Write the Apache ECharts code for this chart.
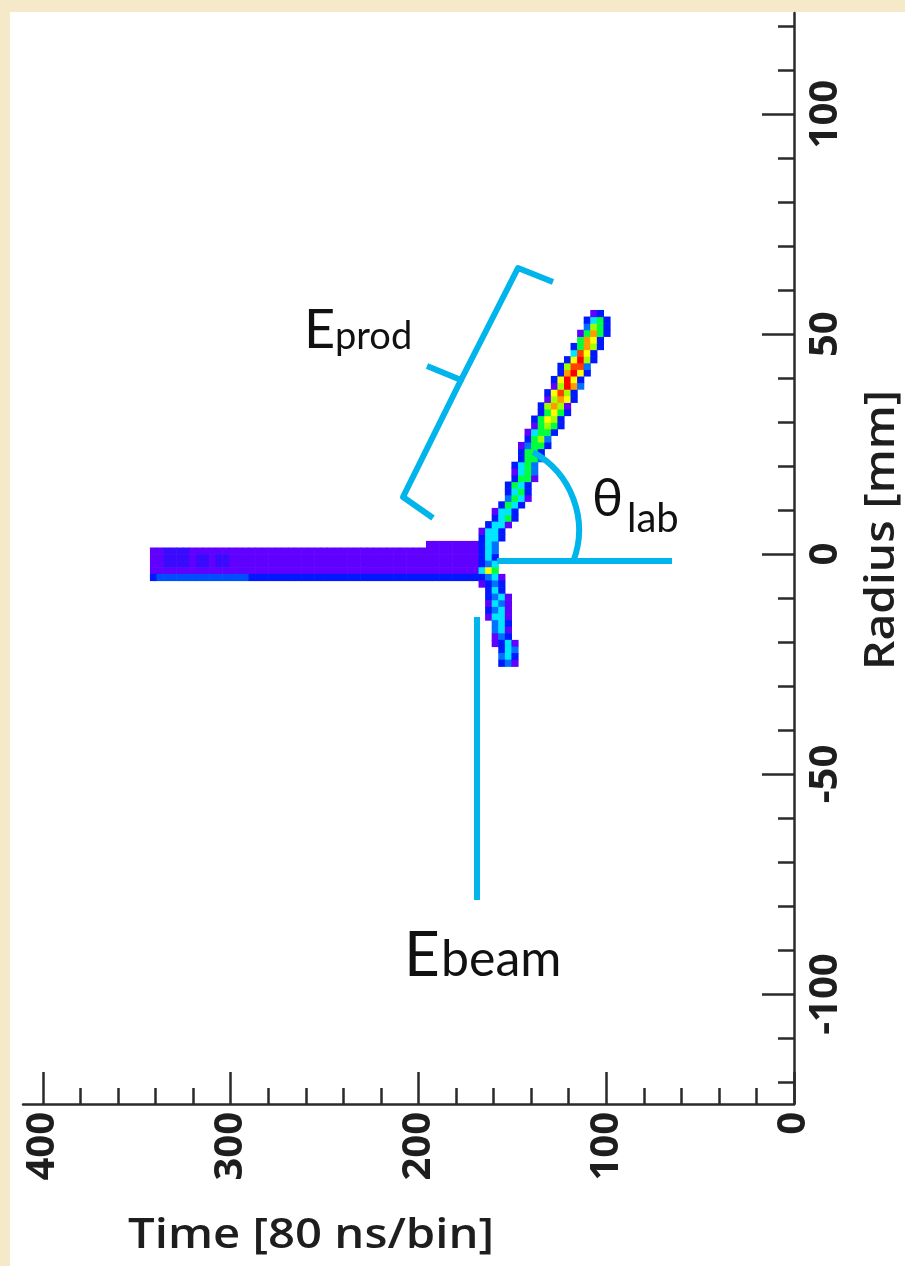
<!DOCTYPE html>
<html>
<head>
<meta charset="utf-8">
<title>Track</title>
<script src="https://cdn.jsdelivr.net/npm/echarts@6.0.0/dist/echarts.min.js"></script>
<style>
  html, body { margin: 0; padding: 0; background: #f5e9c9; }
  #paper { position: absolute; left: 10px; top: 12px; width: 895px; height: 1254px; background: #fff; }
  #main { position: absolute; left: 0; top: 0; width: 905px; height: 1266px; }
</style>
</head>
<body>
<div id="paper"></div>
<div id="main"></div>
<script>
// axis ticks
var timeMajor = [0, 100, 200, 300, 400];
var timeMinor = [20, 40, 60, 80, 120, 140, 160, 180, 220, 240, 260, 280, 320, 340, 360, 380];
var radiusMajor = [-100, -50, 0, 50, 100];
var radiusMinor = [-120, -110, -90, -80, -70, -60, -40, -30, -20, -10, 10, 20, 30, 40, 60, 70, 80, 90, 110, 120];

// size of one cell
var timeBin = 3.5;
var radiusBin = 1.5;

// beam: [radius, first time, last time, charge]
var beamRuns = [
  [2.25, 194.25, 169.75, 1],
  [0.75, 341.25, 337.75, 1], [0.75, 334.25, 323.75, 1.4], [0.75, 320.25, 169.75, 1],
  [-0.75, 341.25, 337.75, 1], [-0.75, 334.25, 323.75, 1.4], [-0.75, 320.25, 320.25, 1],
  [-0.75, 316.75, 313.25, 1.4], [-0.75, 309.75, 309.75, 1], [-0.75, 306.25, 302.75, 1.4], [-0.75, 299.25, 169.75, 1],
  [-2.25, 341.25, 337.75, 1], [-2.25, 334.25, 323.75, 1.4], [-2.25, 320.25, 320.25, 1],
  [-2.25, 316.75, 313.25, 1.4], [-2.25, 309.75, 309.75, 1], [-2.25, 306.25, 302.75, 1.4], [-2.25, 299.25, 169.75, 1],
  [-3.75, 341.25, 169.75, 1],
  [-5.25, 341.25, 341.25, 2], [-5.25, 337.75, 292.25, 2.6], [-5.25, 288.75, 169.75, 2]
];

// vertex cells: [radius, first time, charges going to smaller time]
var vertexRows = [
  [2.25, 166.25, [2, 4, 3]],
  [0.75, 166.25, [2, 4, 3]],
  [-0.75, 166.25, [2, 4, 2]],
  [-2.25, 166.25, [2, 3, 4]],
  [-3.75, 166.25, [4, 7, 5]],
  [-5.25, 166.25, [2, 3, 4, 1]]
];

// scattered particle
var productRows = [
  [3.75, 166.25, [2, 4, 4, 2]],
  [5.25, 166.25, [1, 4, 4, 2]],
  [6.75, 162.75, [2, 4, 4, 1]],
  [8.25, 159.25, [2, 4, 5, 2]],
  [9.75, 159.25, [1, 4, 4, 2]],
  [11.25, 155.75, [2, 5, 4, 2]],
  [12.75, 152.25, [3, 5, 4, 1]],
  [14.25, 152.25, [2, 4, 5, 2]],
  [15.75, 152.25, [2, 5, 4, 2]],
  [17.25, 148.75, [2, 5, 5, 1]],
  [18.75, 148.75, [1, 4, 5, 3]],
  [20.25, 148.75, [2, 4, 5, 3]],
  [21.75, 145.25, [2, 5, 5, 3]],
  [23.25, 145.25, [2, 5, 5, 2]],
  [24.75, 145.25, [1, 3, 5, 5, 2]],
  [26.25, 141.75, [2, 5, 6, 3]],
  [27.75, 141.75, [1, 4, 5, 5, 2]],
  [29.25, 138.25, [1, 5, 6, 5, 2]],
  [30.75, 138.25, [2, 5, 7, 6, 2]],
  [32.25, 134.75, [2, 5, 7, 5, 2]],
  [33.75, 134.75, [2, 6, 8, 6, 1]],
  [35.25, 131.25, [1, 6, 8, 7, 2]],
  [36.75, 131.25, [2, 7, 9, 6, 2]],
  [38.25, 127.75, [1, 6, 10, 8, 3]],
  [39.75, 127.75, [2, 7, 10, 7, 2]],
  [41.25, 124.25, [2, 8, 10, 7, 2]],
  [42.75, 124.25, [2, 6, 9, 9, 3]],
  [44.25, 120.75, [2, 7, 10, 6, 2]],
  [45.75, 117.25, [4, 9, 7, 2]],
  [47.25, 117.25, [2, 5, 8, 6, 2]],
  [48.75, 113.75, [5, 8, 7, 2]],
  [50.25, 113.75, [1, 5, 8, 5, 2]],
  [51.75, 110.25, [3, 6, 5, 2]],
  [53.25, 110.25, [2, 4, 5, 2]],
  [54.75, 106.75, [1, 2]]
];

// recoil going down
var recoilRows = [
  [-6.75, 166.25, [1, 2, 3, 2]],
  [-8.25, 162.75, [2, 4, 2]],
  [-9.75, 162.75, [2, 3, 4, 1]],
  [-11.25, 162.75, [1, 4, 3, 1]],
  [-12.75, 162.75, [2, 3, 4, 1]],
  [-14.25, 162.75, [1, 4, 4, 1]],
  [-15.75, 159.25, [3, 4, 2]],
  [-17.25, 159.25, [3, 4, 1]],
  [-18.75, 159.25, [1, 3, 2]],
  [-20.25, 159.25, [1, 2, 4, 1]],
  [-21.75, 155.75, [2, 4, 3]],
  [-23.25, 155.75, [3, 4, 2]],
  [-24.75, 155.75, [2, 3, 1]]
];

var palette = ['#6000ff', '#0018ff', '#0072ff', '#00e6ff', '#00ff3c', '#a0ff00',
               '#ffff00', '#ff9a00', '#ff4000', '#ff0000'];

// expand rows into cells [time, radius, charge]
var cells = [];
beamRuns.forEach(function (b) {
  var n = Math.round((b[1] - b[2]) / timeBin) + 1;
  for (var i = 0; i < n; i++) cells.push([b[1] - i * timeBin, b[0], b[3]]);
});
function addRows(rows) {
  rows.forEach(function (row) {
    row[2].forEach(function (v, i) { cells.push([row[1] - i * timeBin, row[0], v]); });
  });
}
addRows(vertexRows);
addRows(productRows);
addRows(recoilRows);

var ink = '#2a2a2a';
var cyan = '#00b4ec';
var measureCtx = document.createElement('canvas').getContext('2d');
function stretchTo(text, font, width) {
  measureCtx.font = font;
  return width / measureCtx.measureText(text).width;
}
var titleFont = '600 42px "Open Sans"';

var chart = echarts.init(document.getElementById('main'));
var option = {
  animation: false,
  backgroundColor: 'transparent',
  grid: { left: 23, right: 111, top: 13, bottom: 162, outerBoundsMode: 'none' },
  visualMap: {
    show: false, type: 'continuous', dimension: 2, seriesIndex: 0,
    min: 1, max: 10, inRange: { color: palette }
  },
  xAxis: [{
    type: 'value', min: 0, max: 410.6, inverse: true, position: 'bottom',
    axisLine: { show: true, onZero: false, lineStyle: { color: ink, width: 2.5 } },
    axisTick: { show: true, inside: true, length: 32, customValues: timeMajor, lineStyle: { color: ink, width: 2.5 } },
    axisLabel: { show: true, rotate: 90, margin: 8, customValues: timeMajor,
      fontFamily: 'Open Sans', fontWeight: 'bold', fontSize: 40, color: '#1e1e1e' },
    splitLine: { show: false }
  }, {
    type: 'value', min: 0, max: 410.6, inverse: true, position: 'bottom',
    axisLine: { show: false, onZero: false },
    axisTick: { show: true, inside: true, length: 16, customValues: timeMinor, lineStyle: { color: ink, width: 2.5 } },
    axisLabel: { show: false },
    splitLine: { show: false }
  }],
  yAxis: [{
    type: 'value', min: -125, max: 123, position: 'right',
    axisLine: { show: true, onZero: false, lineStyle: { color: ink, width: 2.5 } },
    axisTick: { show: true, inside: true, length: 32, customValues: radiusMajor, lineStyle: { color: ink, width: 2.5 } },
    axisLabel: { show: true, rotate: 90, margin: 12, customValues: radiusMajor,
      fontFamily: 'Open Sans', fontWeight: 'bold', fontSize: 40, color: '#1e1e1e' },
    splitLine: { show: false }
  }, {
    type: 'value', min: -125, max: 123, position: 'right',
    axisLine: { show: false, onZero: false },
    axisTick: { show: true, inside: true, length: 16, customValues: radiusMinor, lineStyle: { color: ink, width: 2.5 } },
    axisLabel: { show: false },
    splitLine: { show: false }
  }],
  series: [{
    type: 'custom',
    xAxisIndex: 0, yAxisIndex: 0,
    dimensions: ['time', 'radius', 'charge'],
    encode: { x: 0, y: 1 },
    data: cells,
    renderItem: function (params, api) {
      var t = api.value(0), r = api.value(1);
      var a = api.coord([t + timeBin / 2, r + radiusBin / 2]);
      var b = api.coord([t - timeBin / 2, r - radiusBin / 2]);
      return {
        type: 'rect',
        shape: {
          x: Math.min(a[0], b[0]), y: Math.min(a[1], b[1]),
          width: Math.abs(b[0] - a[0]) + 0.6, height: Math.abs(b[1] - a[1]) + 0.6
        },
        style: { fill: api.visual('color') }
      };
    }
  }],
  graphic: [
    // theta_lab marks
    { type: 'line', z: 100, shape: { x1: 497, y1: 561, x2: 672, y2: 561 },
      style: { stroke: cyan, lineWidth: 6 } },
    { type: 'arc', z: 100, shape: { cx: 490, cy: 530, r: 89, startAngle: -1.065, endAngle: 0.356, clockwise: true },
      style: { stroke: cyan, lineWidth: 6, fill: 'none' } },
    // E_beam line
    { type: 'line', z: 100, shape: { x1: 477, y1: 617, x2: 477, y2: 900 },
      style: { stroke: cyan, lineWidth: 6 } },
    // E_prod brace
    { type: 'polyline', z: 100, shape: { points: [[553, 282], [518, 268], [461, 380], [427, 366]] },
      style: { stroke: cyan, lineWidth: 6, fill: 'none', lineJoin: 'round' } },
    { type: 'polyline', z: 100, shape: { points: [[461, 380], [403, 497], [433, 518]] },
      style: { stroke: cyan, lineWidth: 6, fill: 'none', lineJoin: 'round' } },
    // labels
    { type: 'text', z: 100, x: 304, y: 331,
      style: { text: 'E', font: '54px Lato, "Noto Sans"', fill: '#111', align: 'left', verticalAlign: 'middle' } },
    { type: 'text', z: 100, x: 335, y: 337,
      style: { text: 'prod', font: '38px Lato, "Noto Sans"', fill: '#111', align: 'left', verticalAlign: 'middle' } },
    { type: 'text', z: 100, x: 592, y: 499,
      style: { text: 'θ', font: '52px Lato, "Noto Sans"', fill: '#111', align: 'left', verticalAlign: 'middle' } },
    { type: 'text', z: 100, x: 627, y: 519,
      style: { text: 'lab', font: '40px Lato, "Noto Sans"', fill: '#111', align: 'left', verticalAlign: 'middle' } },
    { type: 'text', z: 100, x: 404, y: 956,
      style: { text: 'E', font: '62px Lato, "Noto Sans"', fill: '#111', align: 'left', verticalAlign: 'middle' } },
    { type: 'text', z: 100, x: 441, y: 960,
      style: { text: 'beam', font: '50px Lato, "Noto Sans"', fill: '#111', align: 'left', verticalAlign: 'middle' } },
    // axis titles
    { type: 'text', z: 100, x: 128, y: 1236, scaleX: stretchTo('Time [80 ns/bin]', titleFont, 366),
      style: { text: 'Time [80 ns/bin]', font: titleFont, fill: '#1e1e1e', align: 'left', verticalAlign: 'middle' } },
    { type: 'text', z: 100, x: 882, y: 530, rotation: Math.PI / 2, scaleX: stretchTo('Radius [mm]', titleFont, 280),
      style: { text: 'Radius [mm]', font: titleFont, fill: '#1e1e1e', align: 'center', verticalAlign: 'middle' } }
  ]
};
chart.setOption(option);
</script>
</body>
</html>
